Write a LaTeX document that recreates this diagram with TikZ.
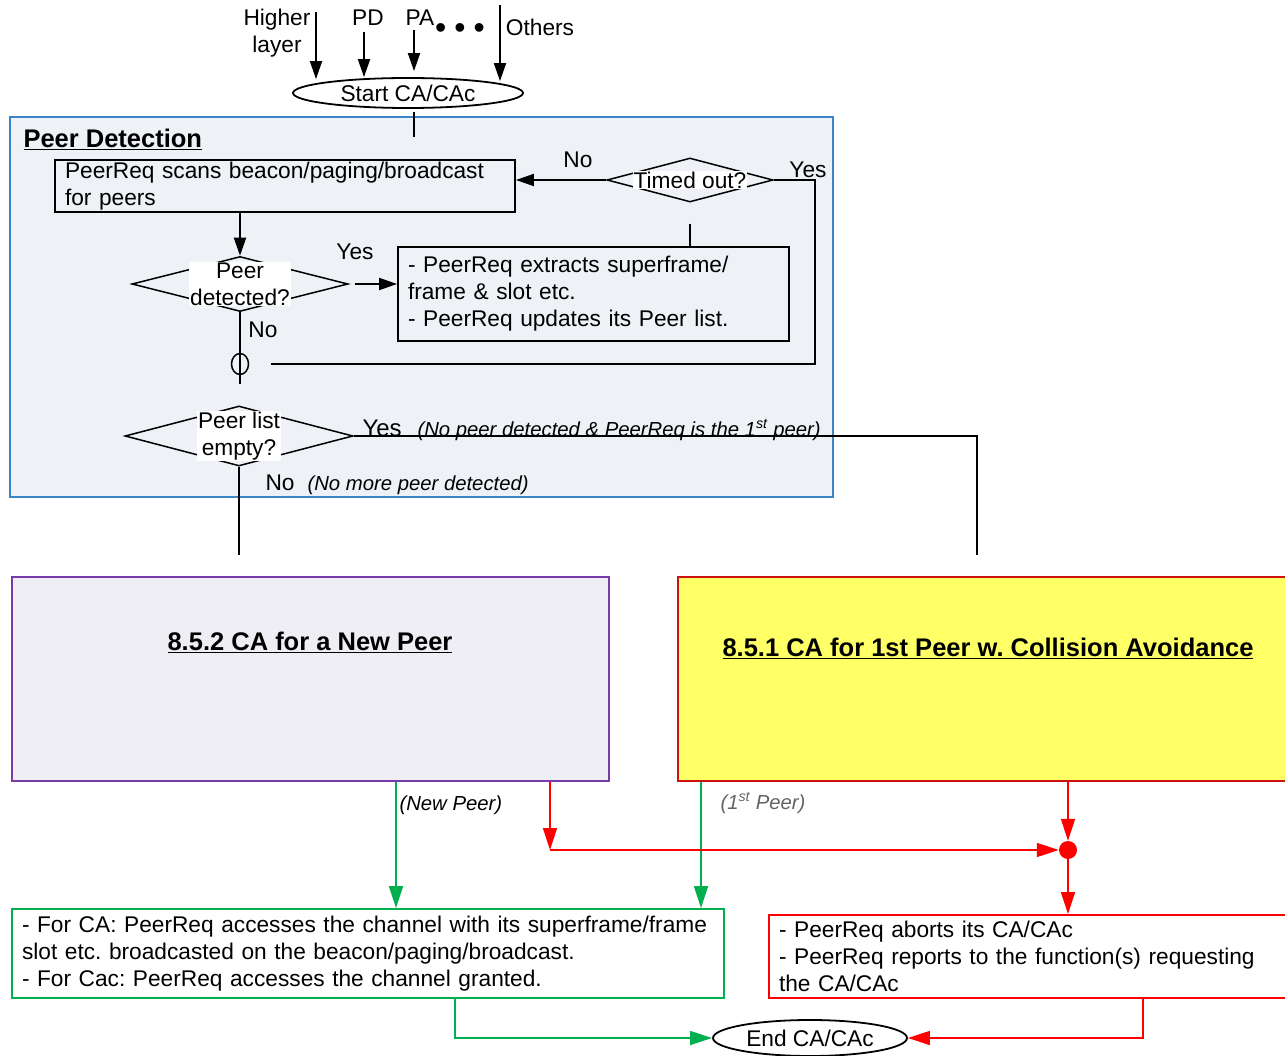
\documentclass[tikz,border=0pt]{standalone}
\usepackage{fontspec}
\setmainfont{Liberation Sans}
\usetikzlibrary{shapes.geometric, arrows.meta}
\definecolor{detfill}{RGB}{238,241,246}
\definecolor{detline}{RGB}{58,132,200}
\definecolor{newfill}{RGB}{240,238,245}
\definecolor{newline}{RGB}{120,60,170}
\definecolor{firstfill}{RGB}{255,255,102}
\definecolor{firstline}{RGB}{204,17,17}
\definecolor{okgreen}{RGB}{0,176,80}
\definecolor{notegray}{RGB}{100,100,100}
\frenchspacing
\hyphenpenalty=10000

\begin{document}
\begin{tikzpicture}[
			x=1pt, y=-1pt,
			>={Triangle[length=18pt,width=12pt]},
			every node/.style={font=\fontsize{22.7}{27}\selectfont},
			terminal/.style={ellipse, draw, line width=1.8pt, inner sep=0pt},
			procbox/.style={rectangle, draw, line width=1.8pt, align=left, inner xsep=10pt, inner ysep=0pt},
			decision/.style={diamond, draw, line width=1.5pt, inner sep=0pt},
			dtext/.style={fill=white, inner sep=1pt, align=center},
			subproc/.style={rectangle, line width=1.8pt, minimum height=204pt},
			heading/.style={font=\bfseries\fontsize{25.5}{30}\selectfont},
			note/.style={font=\itshape\fontsize{20.3}{24}\selectfont},
			line/.style={line width=1.8pt},
			flow/.style={->, line width=1.8pt},
			gflow/.style={-{Triangle[length=22pt,width=14pt]}, line width=1.5pt, color=okgreen},
			rflow/.style={-{Triangle[length=22pt,width=14pt]}, line width=1.5pt, color=red}
			]
			\useasboundingbox (0,0) rectangle (1285,1056);
			\clip (0,0) rectangle (1285,1056);
			
			% peer detection area
			\node[rectangle, draw=detline, fill=detfill, line width=1.5pt, minimum width=823pt, minimum height=380pt] (peerdet) at (421.5,307) {};
			\node[heading, anchor=west] (pdhead) at (20,139) {\underline{Peer Detection}};
			
			% inputs
			\node[align=center] (hltext) at (277,33) {Higher\\layer};
			\node (pdtext) at (368,18) {PD};
			\node (patext) at (420,18) {PA};
			\node[font=\fontsize{32}{32}\selectfont] (dots) at (460,31) {•\hspace{8pt}•\hspace{8pt}•};
			\node (ottext) at (540,27) {Others};
			\node[terminal, minimum width=230pt, minimum height=30pt] (start) at (408,93) {Start CA/CAc};
			
			\coordinate (inHL) at (316,12);
			\coordinate (inPD) at (364,32);
			\coordinate (inPA) at (414,30);
			\coordinate (inOT) at (500,5);
			\draw[flow] (inHL) -- ([yshift=-2pt]inHL |- start.north);
			\draw[flow] (inPD) -- (inPD |- start.north);
			\draw[flow] (inPA) -- ([yshift=6pt]inPA |- start.north);
			\draw[flow] (inOT) -- ([yshift=-4pt]inOT |- start.north);
			
			\coordinate (startout) at (414,112);
			\coordinate (detin) at (414,137);
			\draw[line] (startout) -- (detin);
			
			% scanning loop
			\node[procbox, minimum width=460pt, minimum height=52pt, text width=440pt] (scan) at (285,186) {PeerReq scans beacon/paging/broadcast\\for peers};
			\node[decision, minimum width=166pt, minimum height=44pt] (timeout) at (690,180) {};
			\node[dtext] (timeouttxt) at (timeout) {Timed out?};
			\draw[flow] (timeout.west) -- (timeout.west -| scan.east);
			\node (notime) at (578,160) {No};
			\node (yestime) at (808,170) {Yes};
			
			\node[procbox, minimum width=391pt, minimum height=94pt, text width=371pt] (extract) at (593.5,294) {- PeerReq extracts superframe/\\frame \& slot etc.\\- PeerReq updates its Peer list.};
			\coordinate (tobelow) at (690,224);
			\draw[line] (tobelow) -- (tobelow |- extract.north);
			
			\node[decision, minimum width=216pt, minimum height=55pt] (detected) at (240,284) {};
			\node[dtext] (detectedtxt) at (detected) {Peer\\detected?};
			\draw[flow] (scan.south -| detected) -- (detected.north);
			\node (yesdet) at (355,252) {Yes};
			\draw[flow] ([xshift=6pt]detected.east) -- (extract.west |- detected.east);
			\node (nodet) at (263,330) {No};
			
			\node[ellipse, draw, line width=1.5pt, minimum width=17pt, minimum height=21pt, inner sep=0pt] (merge) at (240,364) {};
			\coordinate (mergeout) at (240,384);
			\draw[line] (detected.south) -- (mergeout);
			\coordinate (loopcorner) at (815,364);
			\coordinate (loopend) at (271,364);
			\draw[line] (timeout.east) -| (loopcorner) -- (loopend);
			
			% peer list check
			\node[decision, minimum width=228pt, minimum height=60pt] (empty) at (239,436) {};
			\node[dtext] (emptytxt) at (empty) {Peer list\\empty?};
			\node[anchor=base west, font=\fontsize{24}{27}\selectfont] (yesempty) at (359,436) {Yes};
			\node[note, anchor=base west] (yesnote) at (414,436) {(No peer detected \& PeerReq is the 1\textsuperscript{st} peer)};
			\node[anchor=base west] (noempty) at (262,490) {No};
			\node[note, anchor=base west] (nonote) at (304,490) {(No more peer detected)};
			\coordinate (yesfree) at (977,555);
			\coordinate (nofree) at (241,555);
			\draw[line] (empty.east) -| (yesfree);
			\draw[line] (empty.south) -- (empty.south |- nofree);
			
			% sub procedures
			\node[subproc, draw=newline, fill=newfill, minimum width=597pt] (newpeer) at (310.5,679) {};
			\node[heading] (newpeerhead) at (310,642) {\underline{8.5.2 CA for a New Peer}};
			\node[subproc, draw=firstline, fill=firstfill, minimum width=622pt] (firstpeer) at (989,679) {};
			\node[heading] (firstpeerhead) at (988,648) {\underline{8.5.1 CA for 1st Peer w. Collision Avoidance}};
			
			\node[procbox, draw=okgreen, minimum width=712pt, minimum height=89pt, text width=692pt] (access) at (368,953.5) {- For CA: PeerReq accesses the channel with its superframe/frame\\slot etc. broadcasted on the beacon/paging/broadcast.\\- For Cac: PeerReq accesses the channel granted.};
			\node[procbox, draw=red, minimum width=531pt, minimum height=83pt, text width=511pt] (abort) at (1034.5,956.5) {- PeerReq aborts its CA/CAc\\- PeerReq reports to the function(s) requesting\\the CA/CAc};
			\node[terminal, minimum width=194pt, minimum height=36pt] (endcac) at (810,1038) {End CA/CAc};
			\node[circle, fill=red, minimum size=18pt, inner sep=0pt] (joint) at (1068,850) {};
			
			\node[note, anchor=base west] (newnote) at (396,810) {(New Peer)};
			\node[note, text=notegray, anchor=base west] (firstnote) at (717,809) {(1\textsuperscript{st} Peer)};
			
			\draw[gflow] ([xshift=85.5pt]newpeer.south) coordinate (g1) -- (g1 |- access.north);
			\draw[gflow] ([xshift=-288pt]firstpeer.south) coordinate (g2) -- (g2 |- access.north);
			\coordinate (rsplit) at (550,850);
			\draw[rflow] (newpeer.south -| rsplit) -- (rsplit);
			\draw[rflow] (rsplit) -- (joint.west);
			\draw[rflow] (firstpeer.south -| joint) -- (joint.north);
			\draw[rflow] (joint.south) -- (abort.north -| joint);
			
			\draw[gflow] ([xshift=87pt]access.south) |- (endcac.west);
			\draw[rflow] ([xshift=108.5pt]abort.south) |- (endcac.east);
		\end{tikzpicture}
\end{document}
